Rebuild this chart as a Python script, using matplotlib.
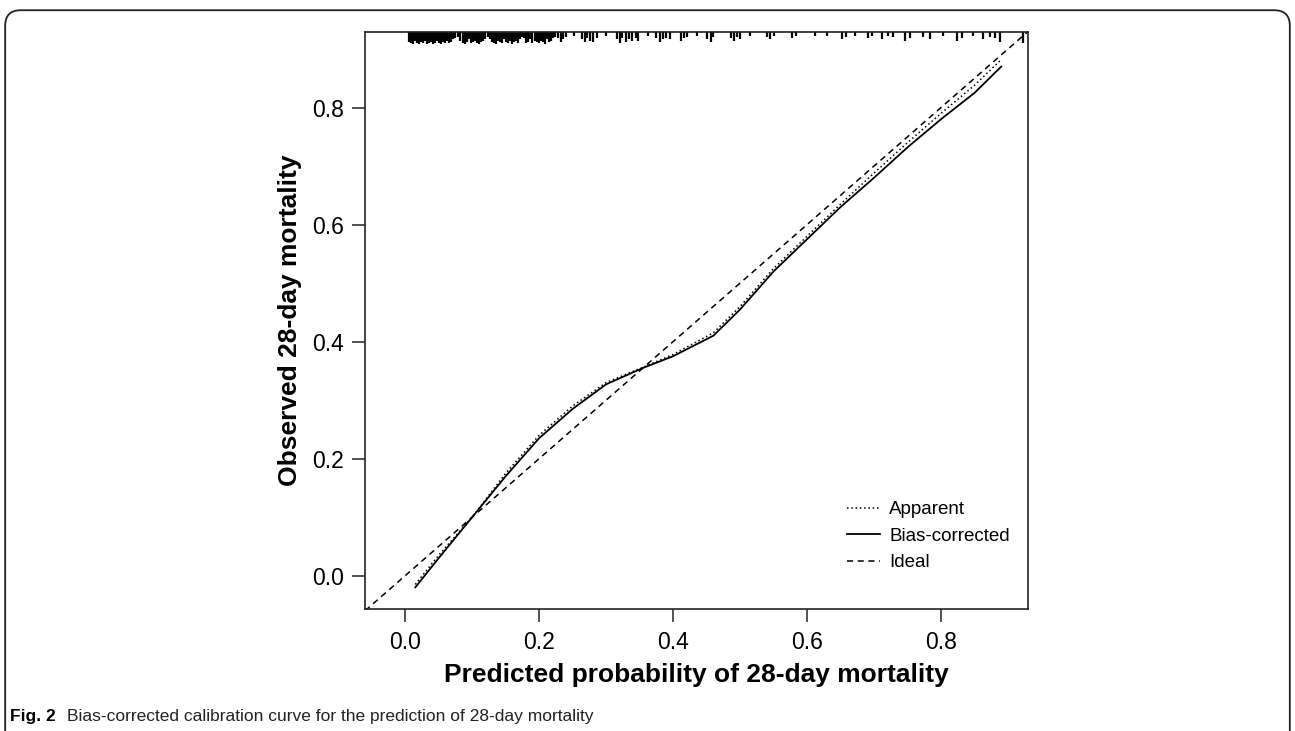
import matplotlib.pyplot as plt
from matplotlib.patches import FancyBboxPatch

plt.rcParams['font.family'] = ['Liberation Sans', 'DejaVu Sans']

# calibration curves
pred = [0.015, 0.05, 0.10, 0.15, 0.20, 0.25, 0.30, 0.355, 0.40, 0.46,
        0.50, 0.55, 0.60, 0.65, 0.70, 0.75, 0.80, 0.85, 0.89]
bias_corrected = [-0.02, 0.03, 0.10, 0.17, 0.235, 0.285, 0.327, 0.355, 0.375, 0.41,
                  0.455, 0.52, 0.575, 0.63, 0.68, 0.732, 0.78, 0.825, 0.87]
apparent = [-0.015, 0.035, 0.10, 0.175, 0.24, 0.29, 0.33, 0.356, 0.378, 0.415,
            0.46, 0.525, 0.58, 0.635, 0.688, 0.74, 0.79, 0.838, 0.882]
ideal = [-0.06, 0.93]

# distribution of predicted risk (rug on top), relative spike height
rug_x = [0.006, 0.009, 0.012, 0.015, 0.018, 0.021, 0.024, 0.027, 0.030, 0.033,
         0.036, 0.039, 0.042, 0.045, 0.048, 0.051, 0.054, 0.057, 0.060, 0.063,
         0.066, 0.069, 0.072, 0.075, 0.079, 0.082, 0.086, 0.089, 0.092, 0.095,
         0.098, 0.101, 0.104, 0.107, 0.110, 0.113, 0.116, 0.119, 0.123, 0.126,
         0.129, 0.132, 0.135, 0.138, 0.141, 0.144, 0.147, 0.150, 0.153, 0.156,
         0.159, 0.162, 0.165, 0.168, 0.171, 0.175, 0.178, 0.181, 0.184, 0.187,
         0.190, 0.193, 0.196, 0.199, 0.202, 0.205, 0.208, 0.211, 0.214, 0.217,
         0.220, 0.224, 0.228, 0.232, 0.236, 0.240, 0.252, 0.264, 0.268, 0.272,
         0.276, 0.281, 0.286, 0.300, 0.316, 0.320, 0.324, 0.329, 0.334, 0.339,
         0.344, 0.348, 0.362, 0.375, 0.380, 0.385, 0.390, 0.396, 0.411, 0.416,
         0.420, 0.436, 0.451, 0.456, 0.460, 0.486, 0.491, 0.496, 0.500, 0.515,
         0.540, 0.545, 0.550, 0.577, 0.583, 0.612, 0.630, 0.652, 0.658, 0.672,
         0.691, 0.697, 0.712, 0.721, 0.729, 0.746, 0.754, 0.773, 0.784, 0.803,
         0.824, 0.831, 0.848, 0.863, 0.873, 0.881, 0.888, 0.922]
rug_h = [0.8, 0.9, 1.0, 0.7, 0.9, 1.0, 0.8, 0.9, 0.7, 1.0,
         0.9, 0.8, 1.0, 0.9, 0.7, 0.9, 1.0, 0.8, 0.9, 0.7,
         0.9, 0.8, 0.6, 0.5, 0.4, 0.7, 0.9, 1.0, 0.8, 0.6,
         0.9, 0.8, 0.7, 0.9, 1.0, 0.8, 0.7, 0.6, 0.4, 0.6,
         0.8, 0.9, 1.0, 0.7, 0.8, 0.9, 0.6, 0.8, 0.9, 0.7,
         1.0, 0.8, 0.7, 0.9, 0.6, 0.4, 0.5, 0.9, 0.8, 0.6,
         0.9, 0.7, 0.8, 0.9, 0.7, 0.8, 1.0, 0.6, 0.8, 0.7,
         0.5, 0.4, 0.5, 0.8, 0.6, 0.4, 0.3, 0.6, 0.8, 0.5,
         0.7, 0.8, 0.5, 0.3, 0.6, 0.9, 0.5, 0.8, 0.6, 0.7,
         0.5, 0.7, 0.3, 0.5, 0.8, 0.6, 0.5, 0.6, 0.7, 0.5,
         0.4, 0.3, 0.6, 0.8, 0.4, 0.5, 0.7, 0.4, 0.6, 0.3,
         0.4, 0.6, 0.3, 0.5, 0.3, 0.3, 0.3, 0.6, 0.4, 0.3,
         0.5, 0.3, 0.6, 0.3, 0.4, 0.7, 0.5, 0.4, 0.6, 0.3,
         0.7, 0.5, 0.3, 0.6, 0.4, 0.5, 0.8, 0.9]

fig = plt.figure(figsize=(12.95, 7.31), dpi=100)
ax = fig.add_axes([0.2819, 0.1669, 0.5120, 0.7893])

# outer frame of the figure panel
frame = FancyBboxPatch((0.004, -0.05), 0.992, 1.036, boxstyle='round,pad=0,rounding_size=0.012',
                       transform=fig.transFigure, fill=False, lw=1.3, ec='#222222',
                       mutation_aspect=1.77)
fig.patches.append(frame)

ax.plot(pred, apparent, color='black', lw=1.1, ls=(0, (1, 1.8)), label='Apparent')
ax.plot(pred, bias_corrected, color='black', lw=1.3, label='Bias-corrected')
ax.plot(ideal, ideal, color='black', lw=1.1, ls=(0, (4, 3)), label='Ideal')

ax.set_xlim(-0.06, 0.93)
ax.set_ylim(-0.057, 0.929)
top = 0.929
ax.vlines(rug_x, [top - 0.021 * h for h in rug_h], top, color='black', lw=1.6)

ax.set_xticks([0.0, 0.2, 0.4, 0.6, 0.8])
ax.set_yticks([0.0, 0.2, 0.4, 0.6, 0.8])
ax.set_xticklabels(['0.0', '0.2', '0.4', '0.6', '0.8'])
ax.set_yticklabels(['0.0', '0.2', '0.4', '0.6', '0.8'])
ax.tick_params(direction='out', length=9.5, width=1.1, labelsize=16.5, pad=6, color='#222222')
for s in ax.spines.values():
    s.set_linewidth(1.2)
    s.set_color('#222222')

ax.set_xlabel('Predicted probability of 28-day mortality', fontsize=19, fontweight='bold', labelpad=7)
ax.set_ylabel('Observed 28-day mortality', fontsize=19, fontweight='bold', labelpad=7)

ax.legend(loc='upper left', bbox_to_anchor=(0.727, 0.187), borderaxespad=0, borderpad=0,
          frameon=False, fontsize=13.5, handlelength=1.75, handletextpad=0.5, labelspacing=0.5)

fig.text(0.008, 0.013, 'Fig. 2', fontsize=12.5, fontweight='bold', family=['Liberation Sans Narrow', 'Liberation Sans'])
fig.text(0.052, 0.013, 'Bias-corrected calibration curve for the prediction of 28-day mortality',
         fontsize=12.5, family=['Liberation Sans Narrow', 'Liberation Sans'], color='#222222')

fig.savefig('out.png', dpi=100)
